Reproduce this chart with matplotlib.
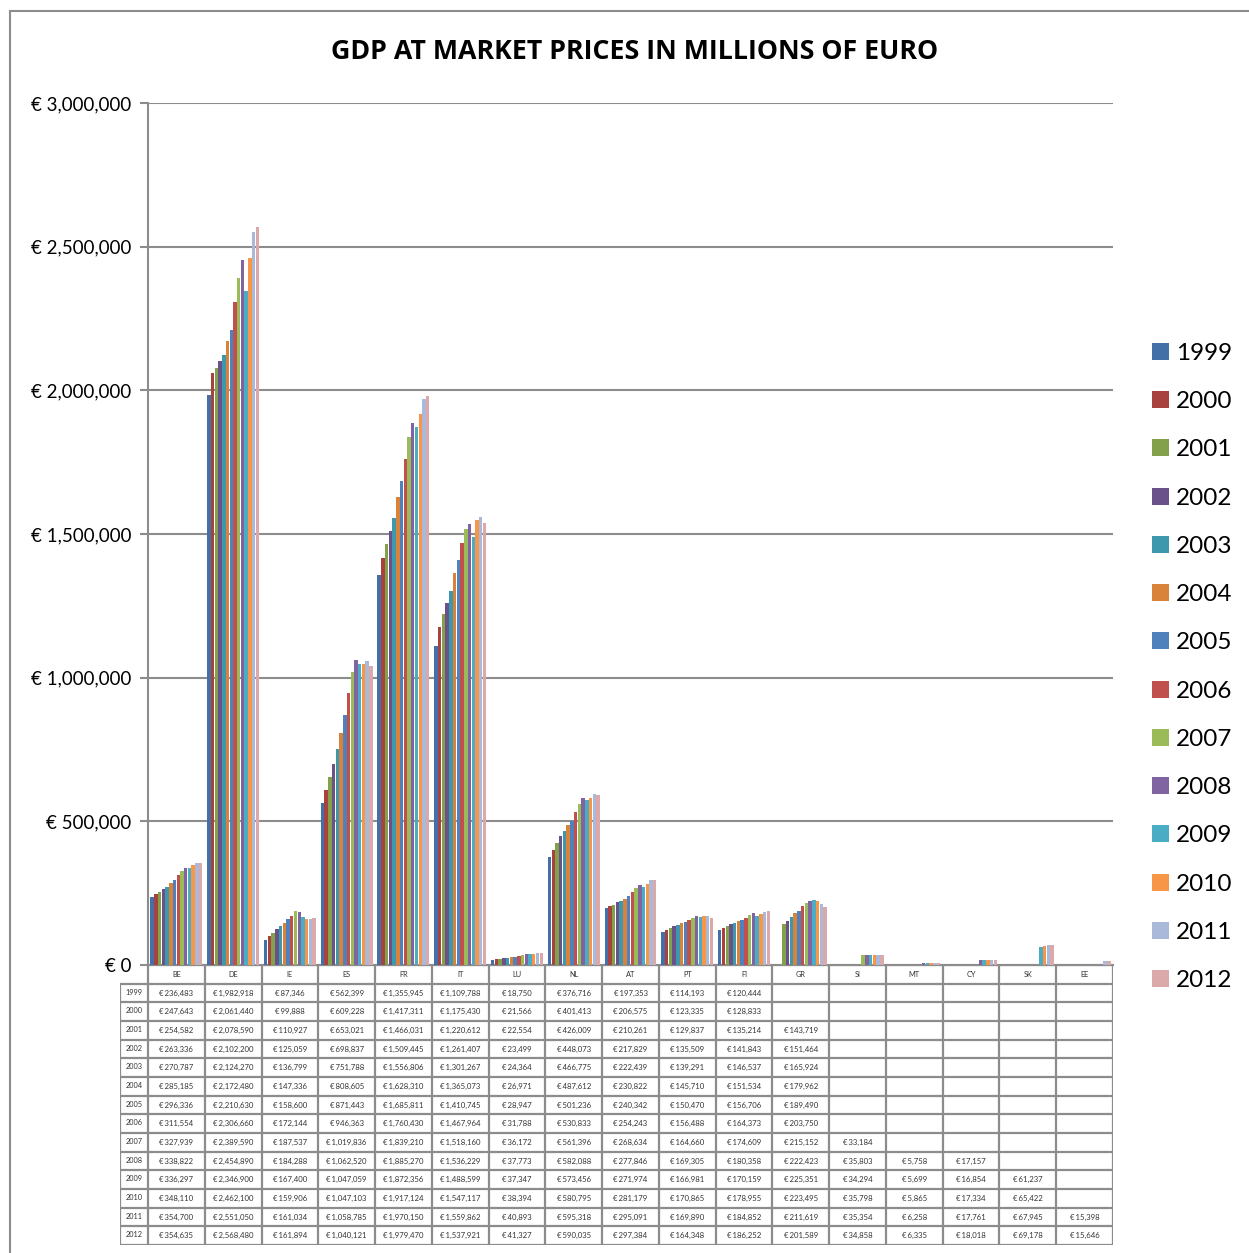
import numpy as np
import matplotlib
matplotlib.use('Agg')
import matplotlib.pyplot as plt
from matplotlib.patches import Patch, Rectangle

plt.rcParams['font.family'] = ['Lato', 'DejaVu Sans']

# --- data (millions of euro) ---
countries = ['BE', 'DE', 'IE', 'ES', 'FR', 'IT', 'LU', 'NL', 'AT', 'PT', 'FI',
             'GR', 'SI', 'MT', 'CY', 'SK', 'EE']
years = [str(y) for y in range(1999, 2013)]

be = [236483, 247643, 254582, 263336, 270787, 285185, 296336, 311554, 327939, 338822, 336297, 348110, 354700, 354635]
de = [1982918, 2061440, 2078590, 2102200, 2124270, 2172480, 2210630, 2306660, 2389590, 2454890, 2346900, 2462100, 2551050, 2568480]
ie = [87346, 99888, 110927, 125059, 136799, 147336, 158600, 172144, 187537, 184288, 167400, 159906, 161034, 161894]
es = [562399, 609228, 653021, 698837, 751788, 808605, 871443, 946363, 1019836, 1062520, 1047059, 1047103, 1058785, 1040121]
fr = [1355945, 1417311, 1466031, 1509445, 1556806, 1628310, 1685811, 1760430, 1839210, 1885270, 1872356, 1917124, 1970150, 1979470]
it = [1109788, 1175430, 1220612, 1261407, 1301267, 1365073, 1410745, 1467964, 1518160, 1536229, 1488599, 1547117, 1559862, 1537921]
lu = [18750, 21566, 22554, 23499, 24364, 26971, 28947, 31788, 36172, 37773, 37347, 38394, 40893, 41327]
nl = [376716, 401413, 426009, 448073, 466775, 487612, 501236, 530833, 561396, 582088, 573456, 580795, 595318, 590035]
at = [197353, 206575, 210261, 217829, 222439, 230822, 240342, 254243, 268634, 277846, 271974, 281179, 295091, 297384]
pt = [114193, 123335, 129837, 135509, 139291, 145710, 150470, 156488, 164660, 169305, 166981, 170865, 169890, 164348]
fi = [120444, 128833, 135214, 141843, 146537, 151534, 156706, 164373, 174609, 180358, 170159, 178955, 184852, 186252]
gr = [None, None, 143719, 151464, 165924, 179962, 189490, 203750, 215152, 222423, 225351, 223495, 211619, 201589]
si = [None] * 8 + [33184, 35803, 34294, 35798, 35354, 34858]
mt = [None] * 9 + [5758, 5699, 5865, 6258, 6335]
cy = [None] * 9 + [17157, 16854, 17334, 17761, 18018]
sk = [None] * 10 + [61237, 65422, 67945, 69178]
ee = [None] * 12 + [15398, 15646]

table = [be, de, ie, es, fr, it, lu, nl, at, pt, fi, gr, si, mt, cy, sk, ee]

colors = ['#4470A8', '#A8423F', '#82A14A', '#6A5189', '#3D97AD', '#D9823A',
          '#4F81BD', '#C0504D', '#9BBB59', '#8064A2', '#4BACC6', '#F79646',
          '#AAB9D9', '#DBA9A9']

W, H = 1249, 1253
fig = plt.figure(figsize=(W / 100, H / 100), dpi=100)

# outer frame
fig.patches.append(Rectangle((10 / W, -0.05), 1.2, 1 - 11 / H + 0.05, transform=fig.transFigure,
                             fill=False, edgecolor='#8c8c8c', lw=1.5))

ax = fig.add_axes([148 / W, 1 - 965 / H, 965 / W, 862 / H])
n = len(countries)
ny = len(years)
bw = 0.92 / ny
x = np.arange(n)
for j, yr in enumerate(years):
    vals = np.array([row[j] if row[j] is not None else np.nan for row in table], dtype=float)
    ax.bar(x - 0.46 + (j + 0.5) * bw, vals, width=bw * 0.92, color=colors[j], linewidth=0, label=yr, zorder=3)

ax.set_xlim(-0.5, n - 0.5)
ax.set_ylim(0, 3000000)
ax.set_yticks(np.arange(0, 3000001, 500000))
ax.set_yticklabels(['€ 0' if v == 0 else f'€ {v:,}' for v in range(0, 3000001, 500000)], fontsize=13.5)
ax.set_xticks([])
ax.yaxis.grid(True, color='#8c8c8c', lw=1.5, zorder=0)
ax.tick_params(axis='y', length=6, width=1.5, color='#8c8c8c', pad=6)
for s in ['top', 'right']:
    ax.spines[s].set_visible(False)
for s in ['left', 'bottom']:
    ax.spines[s].set_color('#8c8c8c')
    ax.spines[s].set_linewidth(1.5)

fig.text(635 / W, 1 - 52 / H, 'GDP AT MARKET PRICES IN MILLIONS OF EURO', ha='center', va='center',
         fontsize=19.3, fontweight='bold', family=['Open Sans', 'DejaVu Sans'])

# --- data table below the plot ---
gw = 965 / n
lab_w = 28 / gw
ax_t = fig.add_axes([120 / W, 1 - 1245 / H, 993 / W, 280 / H])
ax_t.set_xlim(-0.5 - lab_w, n - 0.5)
ax_t.set_ylim(ny + 1, 0)
ax_t.axis('off')
lc = '#8c8c8c'
ax_t.hlines(0, -0.5, n - 0.5, color=lc, lw=1.6)
ax_t.hlines(np.arange(1, ny + 2), -0.5 - lab_w, n - 0.5, color=lc, lw=1.6)
ax_t.vlines(np.arange(n + 1) - 0.5, 0, ny + 1, color=lc, lw=1.6)
ax_t.vlines(-0.5 - lab_w, 1, ny + 1, color=lc, lw=1.6)
for i, c in enumerate(countries):
    ax_t.text(i, 0.5, c, ha='center', va='center', fontsize=5.3, color='#333333')
for j, yr in enumerate(years):
    ax_t.text(-0.5 - lab_w / 2, j + 1.45, yr, ha='center', va='center', fontsize=5.3, color='#333333')
    for i, row in enumerate(table):
        if row[j] is not None:
            ax_t.text(i, j + 1.5, f'€\u2009{row[j]:,}', ha='center', va='center', fontsize=5.6, color='#333333')

handles = [Patch(facecolor=c, edgecolor='none') for c in colors]
fig.legend(handles, years, loc='upper left', bbox_to_anchor=(1152 / W, 1 - 343 / H), frameon=False,
           fontsize=17.5, handlelength=0.7, handleheight=0.7, handletextpad=0.3, labelspacing=1.12,
           borderpad=0, borderaxespad=0)

fig.savefig('out.png', dpi=100)
